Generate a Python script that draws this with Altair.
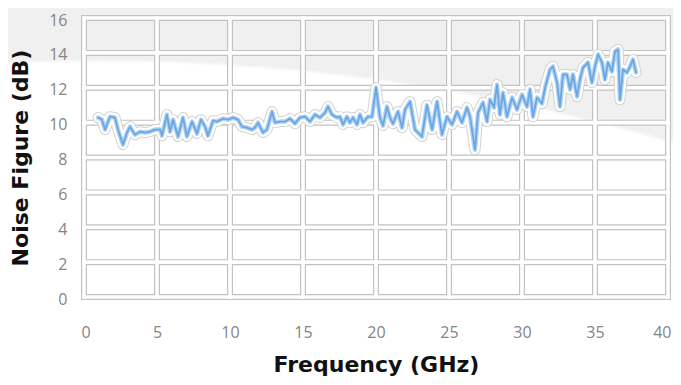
import altair as alt
import pandas as pd

# Data
freq = [0.96, 1.23, 1.44, 1.78, 2.12, 2.33, 2.67, 2.95, 3.15, 3.49, 3.84, 4.18, 4.52, 4.86,
        5.21, 5.34, 5.68, 5.89, 6.10, 6.44, 6.78, 7.05, 7.40, 7.74, 8.01, 8.29, 8.49, 8.84,
        9.11, 9.52, 9.86, 10.21, 10.55, 10.82, 11.16, 11.51, 11.71, 11.92, 12.26, 12.53,
        12.88, 13.08, 13.42, 13.77, 14.11, 14.45, 14.79, 15.14, 15.48, 15.82, 16.16, 16.51,
        16.71, 16.99, 17.33, 17.53, 17.74, 18.01, 18.22, 18.42, 18.70, 18.90, 19.11, 19.45,
        19.73, 20.00, 20.27, 20.48, 20.75, 20.96, 21.16, 21.51, 21.78, 21.99, 22.33, 22.67,
        23.15, 23.49, 23.84, 24.18, 24.52, 24.86, 25.21, 25.55, 25.89, 26.23, 26.44, 26.78,
        26.99, 27.33, 27.60, 27.81, 28.08, 28.29, 28.49, 28.70, 28.97, 29.32, 29.66, 30.00,
        30.34, 30.55, 30.75, 31.03, 31.37, 31.58, 31.92, 32.12, 32.40, 32.60, 32.81, 33.08,
        33.29, 33.49, 33.77, 33.97, 34.18, 34.52, 34.79, 35.00, 35.21, 35.48, 35.68, 35.89,
        36.16, 36.37, 36.58, 36.71, 36.92, 37.19, 37.40, 37.60, 37.81]
noise_figure = [10.29, 10.17, 9.60, 10.34, 10.29, 9.60, 8.74, 9.43, 9.77, 9.31, 9.48, 9.43,
                9.48, 9.60, 9.60, 9.25, 10.46, 9.48, 10.17, 9.20, 10.29, 9.20, 10.06, 9.37,
                10.17, 9.77, 9.25, 10.11, 10.06, 10.23, 10.17, 10.29, 10.17, 9.77, 9.71, 9.60,
                9.71, 10.00, 9.43, 9.60, 10.63, 10.00, 10.06, 10.06, 10.23, 9.94, 10.29, 10.34,
                10.06, 10.46, 10.29, 10.57, 10.92, 10.46, 10.29, 10.34, 9.89, 10.34, 10.00,
                10.29, 9.89, 10.46, 10.00, 10.34, 10.34, 12.01, 10.29, 9.83, 10.92, 10.29,
                9.94, 10.63, 9.71, 10.75, 11.20, 9.60, 9.20, 11.00, 9.60, 11.20, 9.31, 10.34,
                9.89, 10.63, 10.00, 10.86, 10.34, 8.45, 10.57, 11.15, 10.06, 11.32, 10.86,
                12.18, 10.46, 11.72, 10.34, 11.44, 10.75, 11.61, 10.92, 11.90, 10.34, 11.44,
                11.09, 12.01, 13.05, 13.22, 12.30, 10.92, 12.76, 12.76, 11.90, 12.76, 11.49,
                12.47, 13.16, 13.45, 12.30, 13.22, 13.91, 13.45, 12.47, 13.45, 12.93, 14.08,
                14.20, 11.32, 13.05, 12.87, 13.22, 13.62, 12.87]
x_ticks = [0, 5, 10, 15, 20, 25, 30, 35, 40]
y_ticks = [0, 2, 4, 6, 8, 10, 12, 14, 16]

df = pd.DataFrame({"freq": freq, "nf": noise_figure})
W, H = 584, 279

xs = alt.Scale(domain=[0, 40], nice=False, zero=False)
ys = alt.Scale(domain=[0, 16], nice=False, zero=False)
x_axis = alt.Axis(values=x_ticks, title="Frequency (GHz)", grid=False, domain=False,
                  ticks=False, labelPadding=27, titlePadding=14, format="d", zindex=2,
                  labelFlush=True, labelFlushOffset=3)
y_axis = alt.Axis(values=y_ticks, title="Noise Figure (dB)", grid=False, domain=False,
                  ticks=False, labelPadding=17, titlePadding=16, labelOffset=2, format="d",
                  zindex=2, labelFlush=False)

# decorative slide background (grey top, white curved swoosh)
bg = alt.Chart(pd.DataFrame({"k": [0]})).mark_rect(
    color=alt.RadialGradient(
        gradient="radial",
        x1=0.138, y1=3.383, r1=0,
        x2=0.138, y2=3.383, r2=3.084,
        stops=[alt.GradientStop(color="#ffffff", offset=0),
               alt.GradientStop(color="#ffffff", offset=0.998),
               alt.GradientStop(color="#f0f0f0", offset=1)],
    )
).encode(x=alt.value(-76), x2=alt.value(W + 5), y=alt.value(-10), y2=alt.value(H + 80))

gx = pd.DataFrame({"freq": x_ticks})
gy = pd.DataFrame({"nf": y_ticks})
X = alt.X("freq:Q", scale=xs, axis=x_axis)
Y = alt.Y("nf:Q", scale=ys, axis=y_axis)

vg_gray = alt.Chart(gx).mark_rule(color="#c2c2c2", strokeWidth=6, strokeCap="square").encode(x=X)
hg_gray = alt.Chart(gy).mark_rule(color="#c2c2c2", strokeWidth=6, strokeCap="square").encode(y=Y)
vg_white = alt.Chart(gx).mark_rule(color="#ffffff", strokeWidth=3.6, strokeCap="square").encode(x=X)
hg_white = alt.Chart(gy).mark_rule(color="#ffffff", strokeWidth=3.6, strokeCap="square").encode(y=Y)

base = alt.Chart(df).encode(x=X, y=Y)
outline = base.mark_line(color="#d2d2d2", strokeWidth=11, strokeJoin="round", strokeCap="round")
halo = base.mark_line(color="#ffffff", strokeWidth=9, strokeJoin="round", strokeCap="round")
glow = base.mark_line(color="#b3d3f2", strokeWidth=4.5, strokeJoin="round", strokeCap="round")
core = base.mark_line(color="#6aa7e2", strokeWidth=1.8, strokeJoin="round", strokeCap="round")

chart = alt.layer(bg, vg_gray, hg_gray, vg_white, hg_white, outline, halo, glow, core).properties(
    width=W, height=H,
    autosize=alt.AutoSizeParams(type="none"),
    padding={"left": 76, "top": 10, "right": 5, "bottom": 80},
).configure_view(strokeWidth=0).configure_axis(
    labelFont="Open Sans", labelFontSize=16, labelColor="#858585",
    titleFont="DejaVu Sans", titleFontSize=22, titleFontWeight="bold", titleColor="#111111",
)

chart.save("out.html", embed_options={"renderer": "svg", "actions": False})
